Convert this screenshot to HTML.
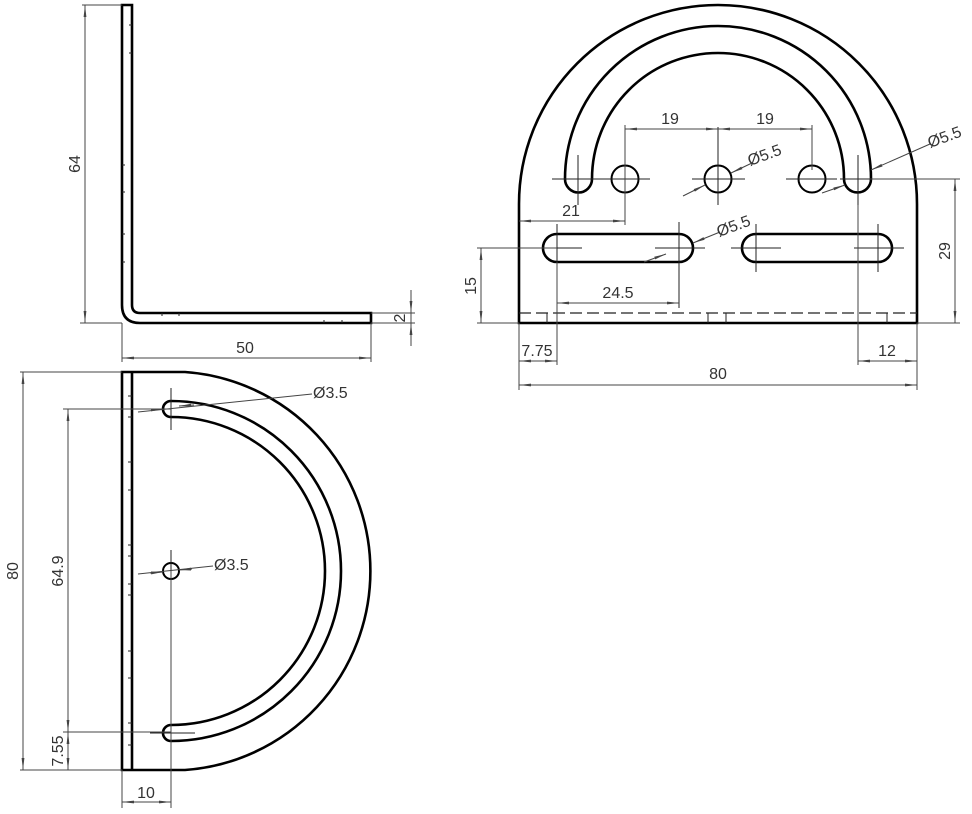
<!DOCTYPE html>
<html><head><meta charset="utf-8"><style>
html,body{margin:0;padding:0;background:#fff;}
svg{display:block;}
text{font-family:"Liberation Sans",sans-serif;font-size:16px;fill:#333;}
.o{fill:none;stroke:#000;stroke-width:2.6;}
.d{fill:none;stroke:#444;stroke-width:1;}
.c{fill:none;stroke:#222;stroke-width:1;}
</style></head><body>
<svg width="972" height="814" viewBox="0 0 972 814">
<defs>
<marker id="a" viewBox="0 0 12 4" refX="12" refY="2" markerWidth="12" markerHeight="4" markerUnits="userSpaceOnUse" orient="auto-start-reverse"><path d="M0,0.6 L12,2 L0,3.4z" fill="#444"/></marker>
</defs>

<!-- TOP LEFT L-profile -->
<path class="o" d="M122,5 L122,305 Q122,323 140,323 L371,323 L371,313 L140,313 Q132,313 132,305 L132,5 Z"/>
<g class="c">
<line x1="129" y1="25" x2="132" y2="25"/><line x1="129" y1="53" x2="132" y2="53"/>
<line x1="122" y1="165" x2="125" y2="165"/><line x1="122" y1="192" x2="125" y2="192"/>
<line x1="122" y1="234" x2="125" y2="234"/><line x1="122" y1="262" x2="125" y2="262"/>
<line x1="162" y1="313" x2="162" y2="316"/><line x1="179" y1="313" x2="179" y2="316"/>
<line x1="324" y1="320" x2="324" y2="323"/><line x1="342" y1="320" x2="342" y2="323"/>
</g>
<g class="d">
<line x1="82" y1="5" x2="122" y2="5"/><line x1="80" y1="323" x2="122" y2="323"/>
<line x1="85" y1="5" x2="85" y2="323" marker-start="url(#a)" marker-end="url(#a)"/>
<line x1="122" y1="323" x2="122" y2="362"/><line x1="371" y1="323" x2="371" y2="362"/>
<line x1="122" y1="358" x2="371" y2="358" marker-start="url(#a)" marker-end="url(#a)"/>
<line x1="371" y1="313" x2="415" y2="313"/><line x1="371" y1="323" x2="415" y2="323"/>
<line x1="411" y1="290" x2="411" y2="313" marker-end="url(#a)"/>
<line x1="411" y1="346" x2="411" y2="323" marker-end="url(#a)"/>
<line x1="411" y1="313" x2="411" y2="323"/>
</g>
<text transform="translate(80,164) rotate(-90)" text-anchor="middle">64</text>
<text x="245" y="353" text-anchor="middle">50</text>
<text transform="translate(405,318) rotate(-90)" text-anchor="middle">2</text>

<!-- BOTTOM LEFT D view -->
<path class="o" d="M122,372 L185,372 A199.5,199.5 0 0 1 185,770 L122,770 Z"/>
<line class="o" x1="132" y1="372" x2="132" y2="770"/>
<path class="o" d="M171,401 A170,170 0 0 1 171,741 A8,8 0 0 1 171,725 A154,154 0 0 0 171,417 A8,8 0 0 1 171,401 Z"/>
<circle class="o" cx="171" cy="571" r="8" style="stroke-width:2"/>
<g class="c">
<line x1="128" y1="396" x2="132" y2="396"/><line x1="128" y1="417" x2="132" y2="417"/>
<line x1="128" y1="462" x2="132" y2="462"/><line x1="128" y1="490" x2="132" y2="490"/>
<line x1="128" y1="545" x2="132" y2="545"/><line x1="128" y1="556" x2="132" y2="556"/>
<line x1="128" y1="584" x2="132" y2="584"/><line x1="128" y1="595" x2="132" y2="595"/>
<line x1="128" y1="651" x2="132" y2="651"/><line x1="128" y1="678" x2="132" y2="678"/>
<line x1="128" y1="723" x2="132" y2="723"/><line x1="128" y1="745" x2="132" y2="745"/>
<line x1="171" y1="388" x2="171" y2="430"/><line x1="171" y1="550" x2="171" y2="592"/>
<line x1="150" y1="733" x2="195" y2="733"/>
</g>
<g class="d">
<line x1="20" y1="372" x2="122" y2="372"/><line x1="20" y1="770" x2="122" y2="770"/>
<line x1="23" y1="372" x2="23" y2="770" marker-start="url(#a)" marker-end="url(#a)"/>
<line x1="63" y1="409" x2="171" y2="409"/><line x1="63" y1="732" x2="171" y2="732"/>
<line x1="68" y1="409" x2="68" y2="732" marker-start="url(#a)" marker-end="url(#a)"/>
<line x1="68" y1="732" x2="68" y2="770" marker-start="url(#a)" marker-end="url(#a)"/>
<line x1="122" y1="770" x2="122" y2="808"/><line x1="171" y1="571" x2="171" y2="808"/>
<line x1="122" y1="802" x2="171" y2="802" marker-start="url(#a)" marker-end="url(#a)"/>
<line x1="138" y1="412" x2="312" y2="394"/><line x1="151" y1="410" x2="163" y2="409" marker-end="url(#a)"/>
<line x1="194" y1="405" x2="179" y2="406" marker-end="url(#a)"/>
<line x1="138" y1="574" x2="213" y2="566"/><line x1="150" y1="573" x2="163" y2="572" marker-end="url(#a)"/>
<line x1="192" y1="569" x2="179" y2="570" marker-end="url(#a)"/>
</g>
<text transform="translate(18,571) rotate(-90)" text-anchor="middle">80</text>
<text transform="translate(63,571) rotate(-90)" text-anchor="middle">64.9</text>
<text transform="translate(63,751) rotate(-90)" text-anchor="middle">7.55</text>
<text x="146" y="798" text-anchor="middle">10</text>
<text x="313" y="398">Ø3.5</text>
<text x="214" y="570">Ø3.5</text>

<!-- RIGHT plate view -->
<path class="o" d="M519,323 L519,204 A199,199 0 0 1 917,204 L917,323 Z"/>
<path class="o" d="M565,179 A153,153 0 0 1 871,179 A13.5,13.5 0 0 1 844,179 A126,126 0 0 0 592,179 A13.5,13.5 0 0 1 565,179 Z"/>
<circle class="o" cx="625" cy="179" r="13.5" style="stroke-width:2"/>
<circle class="o" cx="718" cy="179" r="13.5" style="stroke-width:2"/>
<circle class="o" cx="812" cy="179" r="13.5" style="stroke-width:2"/>
<path class="o" d="M557,234 L679,234 A14,14 0 0 1 679,262 L557,262 A14,14 0 0 1 557,234 Z"/>
<path class="o" d="M756,234 L878,234 A14,14 0 0 1 878,262 L756,262 A14,14 0 0 1 756,234 Z"/>
<line x1="519" y1="313" x2="917" y2="313" stroke="#222" stroke-width="1.2" stroke-dasharray="12,5"/>
<g class="c">
<line x1="552" y1="179" x2="610" y2="179"/><line x1="578" y1="155" x2="578" y2="205"/>
<line x1="600" y1="179" x2="650" y2="179"/>
<line x1="692" y1="179" x2="745" y2="179"/><line x1="718" y1="127" x2="718" y2="205"/>
<line x1="786" y1="179" x2="837" y2="179"/>
<line x1="840" y1="179" x2="880" y2="179"/><line x1="858" y1="155" x2="858" y2="205"/>
<line x1="530" y1="248" x2="582" y2="248"/><line x1="557" y1="224" x2="557" y2="272"/>
<line x1="655" y1="248" x2="705" y2="248"/><line x1="679" y1="222" x2="679" y2="308"/>
<line x1="731" y1="248" x2="781" y2="248"/><line x1="756" y1="224" x2="756" y2="272"/>
<line x1="854" y1="248" x2="904" y2="248"/><line x1="878" y1="224" x2="878" y2="272"/>
<line x1="547" y1="313" x2="547" y2="323"/><line x1="708" y1="313" x2="708" y2="323"/>
<line x1="726" y1="313" x2="726" y2="323"/><line x1="887" y1="313" x2="887" y2="323"/>
</g>
<g class="d">
<line x1="625" y1="125" x2="625" y2="225"/><line x1="812" y1="125" x2="812" y2="170"/>
<line x1="625" y1="129" x2="718" y2="129" marker-start="url(#a)" marker-end="url(#a)"/>
<line x1="718" y1="129" x2="812" y2="129" marker-start="url(#a)" marker-end="url(#a)"/>
<line x1="519" y1="221" x2="625" y2="221" marker-start="url(#a)" marker-end="url(#a)"/>
<line x1="557" y1="262" x2="557" y2="365"/>
<line x1="557" y1="303" x2="679" y2="303" marker-start="url(#a)" marker-end="url(#a)"/>
<line x1="477" y1="248" x2="557" y2="248"/><line x1="477" y1="323" x2="519" y2="323"/>
<line x1="481" y1="248" x2="481" y2="323" marker-start="url(#a)" marker-end="url(#a)"/>
<line x1="870" y1="179" x2="960" y2="179"/><line x1="917" y1="323" x2="960" y2="323"/>
<line x1="955" y1="179" x2="955" y2="323" marker-start="url(#a)" marker-end="url(#a)"/>
<line x1="519" y1="323" x2="519" y2="390"/><line x1="917" y1="323" x2="917" y2="390"/>
<line x1="858" y1="205" x2="858" y2="365"/>
<line x1="519" y1="361" x2="557" y2="361" marker-start="url(#a)" marker-end="url(#a)"/>
<line x1="858" y1="361" x2="917" y2="361" marker-start="url(#a)" marker-end="url(#a)"/>
<line x1="519" y1="385" x2="917" y2="385" marker-start="url(#a)" marker-end="url(#a)"/>
<line x1="683" y1="196" x2="705" y2="185" marker-end="url(#a)"/>
<line x1="752" y1="163" x2="731" y2="173" marker-end="url(#a)"/>
<line x1="822" y1="193" x2="845" y2="185" marker-end="url(#a)"/>
<line x1="930" y1="144" x2="871" y2="170" marker-end="url(#a)"/>
<line x1="644" y1="262" x2="666" y2="254" marker-end="url(#a)"/>
<line x1="720" y1="232" x2="693" y2="243" marker-end="url(#a)"/>
</g>
<text x="670" y="124" text-anchor="middle">19</text>
<text x="765" y="124" text-anchor="middle">19</text>
<text x="571" y="216" text-anchor="middle">21</text>
<text x="618" y="298" text-anchor="middle">24.5</text>
<text transform="translate(476,286) rotate(-90)" text-anchor="middle">15</text>
<text transform="translate(950,251) rotate(-90)" text-anchor="middle">29</text>
<text x="537" y="356" text-anchor="middle">7.75</text>
<text x="887" y="356" text-anchor="middle">12</text>
<text x="718" y="379" text-anchor="middle">80</text>
<text transform="translate(750,166) rotate(-20)">Ø5.5</text>
<text transform="translate(930,148) rotate(-20)">Ø5.5</text>
<text transform="translate(719,237) rotate(-20)">Ø5.5</text>
</svg>
</body></html>
